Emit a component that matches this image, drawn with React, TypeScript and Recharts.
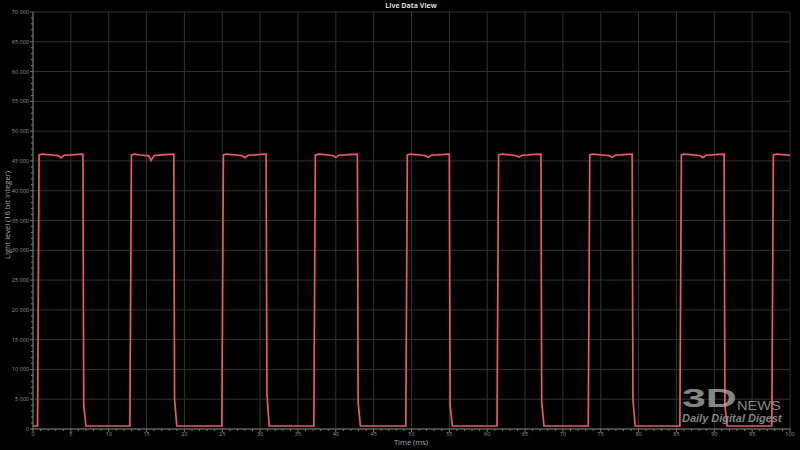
import { LineChart, Line, XAxis, YAxis, CartesianGrid } from 'recharts';

// measured trace, one row per pulse
const timeMs = [
  0, 0.6, 0.8, 1.2, 2.0, 2.8, 3.3, 3.7, 4.1, 5.0, 6.0, 6.6, 6.7, 7.0,
  12.8, 13.0, 13.4, 14.2, 15.0, 15.3, 15.6, 16.0, 17.0, 18.0, 18.6, 18.7, 19.0,
  24.95, 25.15, 25.5, 26.3, 27.1, 27.6, 28.0, 28.4, 29.2, 30.2, 30.8, 30.9, 31.2,
  37.1, 37.3, 37.7, 38.5, 39.2, 39.6, 40.0, 40.4, 41.2, 42.2, 42.85, 42.95, 43.25,
  49.25, 49.45, 49.8, 50.6, 51.4, 51.8, 52.2, 52.6, 53.4, 54.4, 55.0, 55.1, 55.4,
  61.3, 61.5, 61.9, 62.7, 63.4, 63.8, 64.2, 64.6, 65.4, 66.4, 67.1, 67.2, 67.5,
  73.35, 73.55, 73.9, 74.7, 75.6, 76.1, 76.5, 76.9, 77.6, 78.5, 79.15, 79.25, 79.55,
  85.45, 85.65, 86.0, 86.8, 87.6, 88.1, 88.5, 88.9, 89.7, 90.6, 91.3, 91.4, 91.7,
  97.6, 97.8, 98.2, 99.0, 100,
];

const lightLevel = [
  500, 500, 46000, 46150, 46050, 45950, 45900, 45550, 45950, 46000, 46100, 46150, 4000, 500,
  500, 46000, 46150, 46000, 45900, 45850, 45100, 45900, 46000, 46100, 46150, 5000, 500,
  500, 46000, 46150, 46050, 45950, 45900, 45550, 45950, 46000, 46100, 46150, 6000, 500,
  500, 46000, 46150, 46050, 45950, 45900, 45600, 45950, 46000, 46100, 46150, 4500, 500,
  500, 46000, 46150, 46050, 45950, 45900, 45600, 45950, 46000, 46100, 46150, 4000, 500,
  500, 46000, 46150, 46050, 45950, 45900, 45650, 45950, 46000, 46100, 46150, 4500, 500,
  500, 46000, 46150, 46050, 45950, 45900, 45600, 45950, 46000, 46100, 46150, 5000, 500,
  500, 46000, 46150, 46050, 45950, 45900, 45550, 45950, 46000, 46100, 46150, 4000, 500,
  500, 46000, 46150, 46050, 45950,
];

const xMajor = [0, 5, 10, 15, 20, 25, 30, 35, 40, 45, 50, 55, 60, 65, 70, 75, 80, 85, 90, 95, 100];
const yMajor = [0, 5000, 10000, 15000, 20000, 25000, 30000, 35000, 40000, 45000, 50000, 55000, 60000, 65000, 70000];
const xMinor = Array.from({ length: 101 }, (_, i) => i);
const yMinor = Array.from({ length: 71 }, (_, i) => i * 1000);

const data = timeMs.map((t, i) => ({ t, level: lightLevel[i] }));

const font = '"Open Sans", "DejaVu Sans", sans-serif';

const fmt = (v: number) => (v >= 1000 ? `${Math.floor(v / 1000)} ${String(v % 1000).padStart(3, '0')}` : String(v));

function YTick({ x, y, payload }: any) {
  const major = payload.value % 5000 === 0;
  return (
    <g>
      <line x1={x - (major ? 3 : 2)} x2={x} y1={y} y2={y} stroke="#777" strokeWidth={1} />
      {major && (
        <text x={x - 4} y={y} dy={2} textAnchor="end" fontSize={5.5} fill="#9a9a9a" fontFamily={font}>
          {fmt(payload.value)}
        </text>
      )}
    </g>
  );
}

function XTick({ x, y, payload }: any) {
  const major = payload.value % 5 === 0;
  return (
    <g>
      <line x1={x} x2={x} y1={y} y2={y + (major ? 3 : 2)} stroke="#777" strokeWidth={1} />
      {major && (
        <text x={x} y={y + 7} textAnchor="middle" fontSize={5.5} fill="#9a9a9a" fontFamily={font}>
          {payload.value}
        </text>
      )}
    </g>
  );
}

const wm = 'rgba(170,170,170,0.8)';

export default function App() {
  return (
    <div style={{ position: 'absolute', left: 0, top: 0, width: 800, height: 450, background: '#000', overflow: 'hidden' }}>
      <LineChart width={800} height={450} data={data} margin={{ top: 12, right: 10, bottom: 0, left: 0 }}>
        <CartesianGrid stroke="#333" horizontalValues={yMajor} verticalValues={xMajor} />
        <XAxis
          dataKey="t"
          type="number"
          domain={[0, 100]}
          ticks={xMinor}
          interval={0}
          height={21}
          tickSize={0}
          tickMargin={0}
          tickLine={false}
          stroke="#777"
          tick={<XTick />}
        />
        <YAxis
          type="number"
          domain={[0, 70000]}
          ticks={yMinor}
          interval={0}
          width={33}
          tickSize={0}
          tickMargin={0}
          tickLine={false}
          stroke="#777"
          tick={<YTick />}
        />
        <Line
          type="linear"
          dataKey="level"
          stroke="#e8596b"
          strokeWidth={1.7}
          dot={false}
          isAnimationActive={false}
        />
      </LineChart>
      <div style={{ position: 'absolute', left: 311, width: 200, top: 1, textAlign: 'center', fontFamily: font, fontWeight: 700, fontSize: 7, color: '#ddd' }}>
        Live Data View
      </div>
      <div style={{ position: 'absolute', left: 311, width: 200, top: 437, textAlign: 'center', fontFamily: font, fontSize: 7.5, lineHeight: '10px', color: '#aaa' }}>
        Time (ms)
      </div>
      <div
        style={{
          position: 'absolute',
          left: 7 - 100,
          top: 215 - 5,
          width: 200,
          height: 10,
          lineHeight: '10px',
          textAlign: 'center',
          fontFamily: font,
          fontSize: 7.5,
          color: '#aaa',
          whiteSpace: 'nowrap',
          transform: 'rotate(-90deg)',
        }}
      >
        Light level (16 bit integer)
      </div>
      <div style={{ position: 'absolute', left: 682, top: 385, fontFamily: '"Liberation Sans", sans-serif', color: wm, lineHeight: 1, fontSize: 26, fontWeight: 700, transform: 'scaleX(1.65)', transformOrigin: 'left top' }}>
        3D
      </div>
      <div style={{ position: 'absolute', left: 737, top: 400, fontFamily: '"Liberation Sans", sans-serif', color: wm, lineHeight: '12px', fontSize: 12.5, transform: 'scaleX(1.17)', transformOrigin: 'left top' }}>
        NEWS
      </div>
      <div style={{ position: 'absolute', left: 682, top: 413, fontFamily: '"Liberation Sans", sans-serif', color: wm, lineHeight: '11px', fontSize: 11, fontWeight: 700, fontStyle: 'italic' }}>
        Daily Digital Digest
      </div>
    </div>
  );
}
